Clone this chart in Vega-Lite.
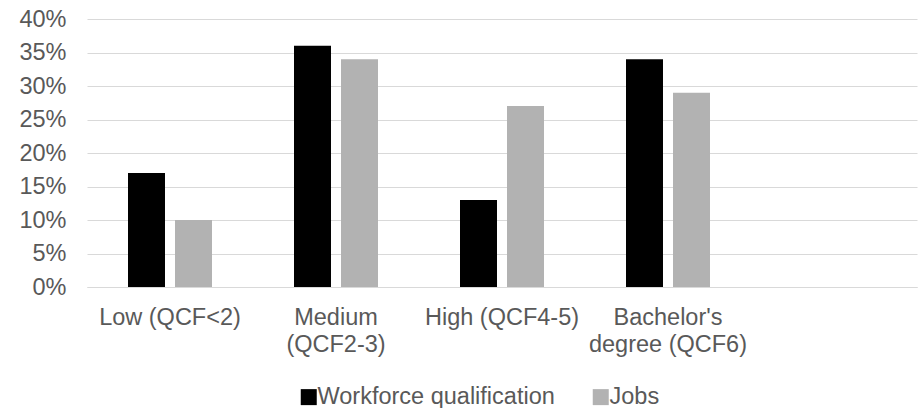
{
  "$schema": "https://vega.github.io/schema/vega-lite/v6.json",
  "width": 830,
  "height": 268,
  "autosize": {"type": "none"},
  "padding": {"left": 87, "top": 19, "right": 2, "bottom": 121},
  "background": "white",
  "config": {
    "view": {"stroke": null},
    "font": "Liberation Sans"
  },
  "data": {
    "values": [
      {"category": "Low (QCF<2)", "series": "Workforce qualification", "value": 0.17},
      {"category": "Low (QCF<2)", "series": "Jobs", "value": 0.10},
      {"category": "Medium (QCF2-3)", "series": "Workforce qualification", "value": 0.36},
      {"category": "Medium (QCF2-3)", "series": "Jobs", "value": 0.34},
      {"category": "High (QCF4-5)", "series": "Workforce qualification", "value": 0.13},
      {"category": "High (QCF4-5)", "series": "Jobs", "value": 0.27},
      {"category": "Bachelor's degree (QCF6)", "series": "Workforce qualification", "value": 0.34},
      {"category": "Bachelor's degree (QCF6)", "series": "Jobs", "value": 0.29}
    ]
  },
  "mark": {"type": "bar"},
  "encoding": {
    "x": {
      "field": "category",
      "type": "nominal",
      "sort": null,
      "scale": {
        "domain": ["Low (QCF<2)", "Medium (QCF2-3)", "High (QCF4-5)", "Bachelor's degree (QCF6)", ""],
        "paddingInner": 0.494,
        "paddingOuter": 0.247
      },
      "axis": {
        "title": null,
        "labelAngle": 0,
        "ticks": false,
        "tickSize": 0,
        "domainColor": "#d9d9d9",
        "domainWidth": 1,
        "labelExpr": "datum.value == 'Medium (QCF2-3)' ? ['Medium', '(QCF2-3)'] : datum.value == \"Bachelor's degree (QCF6)\" ? [\"Bachelor's\", 'degree (QCF6)'] : datum.value",
        "labelFontSize": 23.5,
        "labelColor": "#595959",
        "labelBaseline": "alphabetic",
        "labelPadding": 37,
        "labelLineHeight": 27,
        "labelLimit": 400
      }
    },
    "xOffset": {
      "field": "series",
      "type": "nominal",
      "scale": {
        "domain": ["Workforce qualification", "Jobs"],
        "paddingInner": 0.2128,
        "paddingOuter": 0
      }
    },
    "y": {
      "field": "value",
      "type": "quantitative",
      "scale": {"domain": [0, 0.4]},
      "axis": {
        "title": null,
        "values": [0, 0.05, 0.1, 0.15, 0.2, 0.25, 0.3, 0.35, 0.4],
        "format": ".0%",
        "domain": false,
        "ticks": false,
        "tickSize": 0,
        "labelPadding": 21,
        "gridColor": "#d9d9d9",
        "gridWidth": 1,
        "labelFontSize": 23.5,
        "labelColor": "#595959"
      }
    },
    "color": {
      "field": "series",
      "type": "nominal",
      "scale": {
        "domain": ["Workforce qualification", "Jobs"],
        "range": ["#000000", "#b2b2b2"]
      },
      "legend": {
        "title": null,
        "orient": "none",
        "legendX": 210,
        "legendY": 366,
        "direction": "horizontal",
        "symbolType": "square",
        "symbolSize": 256,
        "symbolStrokeWidth": 0,
        "labelFontSize": 23.5,
        "labelColor": "#595959",
        "labelOffset": -3,
        "columnPadding": 34,
        "labelLimit": 400,
        "padding": 0
      }
    }
  }
}
